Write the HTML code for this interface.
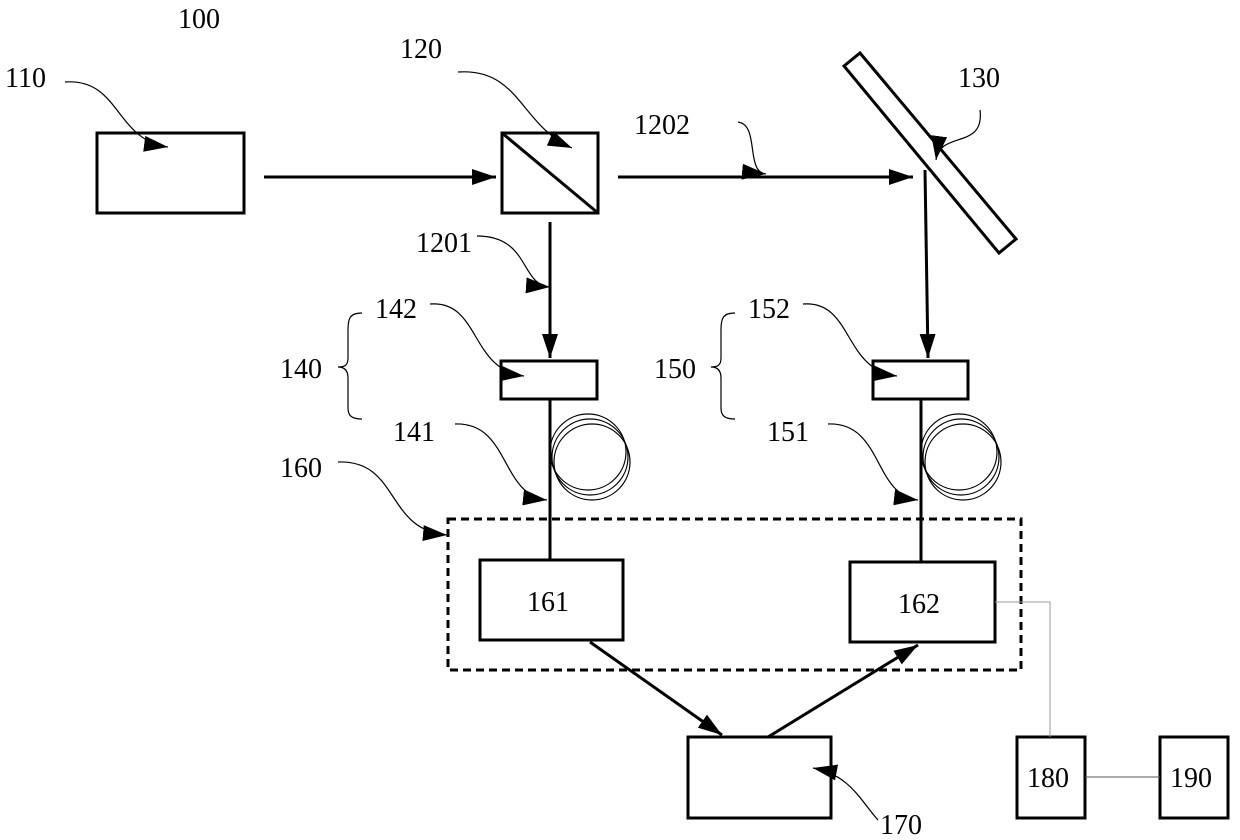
<!DOCTYPE html>
<html><head><style>body{margin:0;background:#fff}svg{display:block}text{font-family:"Liberation Serif",serif;font-size:28px;fill:#000}</style></head><body>
<svg width="1240" height="840" viewBox="0 0 1240 840" xmlns="http://www.w3.org/2000/svg">
<defs>
<marker id="b" viewBox="0 0 10 10" refX="10" refY="5" markerWidth="24" markerHeight="16" markerUnits="userSpaceOnUse" orient="auto" preserveAspectRatio="none"><path d="M0,0L10,5L0,10z"/></marker>
</defs>
<g fill="none" stroke="#000" stroke-width="3">
<rect x="97" y="133" width="147" height="80"/>
<rect x="502" y="133" width="96" height="80"/>
<line x1="502" y1="133" x2="598" y2="213"/>
<polygon points="844,66 860,53 1016,239 999,253"/>
<rect x="501" y="361" width="96" height="38"/>
<rect x="873" y="361" width="95" height="38"/>
<rect x="480" y="560" width="143" height="80"/>
<rect x="850" y="562" width="145" height="80"/>
<rect x="688" y="737" width="143" height="81"/>
<rect x="1017" y="737" width="68" height="81"/>
<rect x="1160" y="737" width="68" height="81"/>
<rect x="448" y="519" width="573" height="151" stroke-dasharray="8,5"/>
<line x1="264" y1="177" x2="496" y2="177" marker-end="url(#b)"/>
<line x1="618" y1="177" x2="913" y2="177" marker-end="url(#b)"/>
<line x1="925" y1="170" x2="928" y2="358" marker-end="url(#b)"/>
<line x1="550" y1="222" x2="550" y2="358" marker-end="url(#b)"/>
<line x1="550" y1="399" x2="550" y2="560"/>
<line x1="921" y1="399" x2="921" y2="562"/>
<line x1="590" y1="642" x2="722" y2="735" marker-end="url(#b)"/>
<line x1="768" y1="737" x2="918" y2="645" marker-end="url(#b)"/>
</g>
<g fill="none" stroke="#000" stroke-width="1.2">
<circle cx="588" cy="452" r="38"/><circle cx="590" cy="457" r="38"/><circle cx="592" cy="462" r="38"/>
<circle cx="959" cy="452" r="38"/><circle cx="961" cy="457" r="38"/><circle cx="963" cy="462" r="38"/>
<path d="M362,313 C350,313 348,318 348,330 L348,358 C348,366 344,367 338,367 C344,367 348,370 348,378 L348,408 C348,416 352,419 362,419"/>
<path d="M735,313 C723,313 721,318 721,330 L721,358 C721,366 717,367 711,367 C717,367 721,370 721,378 L721,408 C721,416 725,419 735,419"/>
<path d="M65,82 C120,78 115,140 168,147" marker-end="url(#b)"/>
<path d="M458,72 C520,68 520,125 572,148" marker-end="url(#b)"/>
<path d="M738,122 C760,125 745,172 766,174" marker-end="url(#b)"/>
<path d="M980,110 C985,150 940,130 936,160" marker-end="url(#b)"/>
<path d="M477,236 C530,236 520,285 550,287" marker-end="url(#b)"/>
<path d="M430,304 C480,300 470,370 524,376" marker-end="url(#b)"/>
<path d="M803,304 C853,300 843,370 897,376" marker-end="url(#b)"/>
<path d="M455,424 C510,422 500,495 547,500" marker-end="url(#b)"/>
<path d="M828,424 C883,422 873,495 918,500" marker-end="url(#b)"/>
<path d="M338,462 C400,460 385,530 447,535" marker-end="url(#b)"/>
<path d="M878,820 C860,800 850,775 813,768" marker-end="url(#b)"/>
</g>
<g fill="none" stroke="#999" stroke-width="1">
<polyline points="995,602 1050,602 1050,737"/>
<line x1="1085" y1="777" x2="1160" y2="777" stroke="#555"/>
</g>
<text x="178" y="28">100</text>
<text x="5" y="87">110</text>
<text x="400" y="58">120</text>
<text x="958" y="87">130</text>
<text x="634" y="134">1202</text>
<text x="416" y="252">1201</text>
<text x="375" y="318">142</text>
<text x="748" y="318">152</text>
<text x="280" y="378">140</text>
<text x="654" y="378">150</text>
<text x="393" y="441">141</text>
<text x="767" y="441">151</text>
<text x="280" y="477">160</text>
<text x="527" y="611">161</text>
<text x="898" y="613">162</text>
<text x="1027" y="787">180</text>
<text x="1170" y="787">190</text>
<text x="880" y="834">170</text>
</svg>
</body></html>
